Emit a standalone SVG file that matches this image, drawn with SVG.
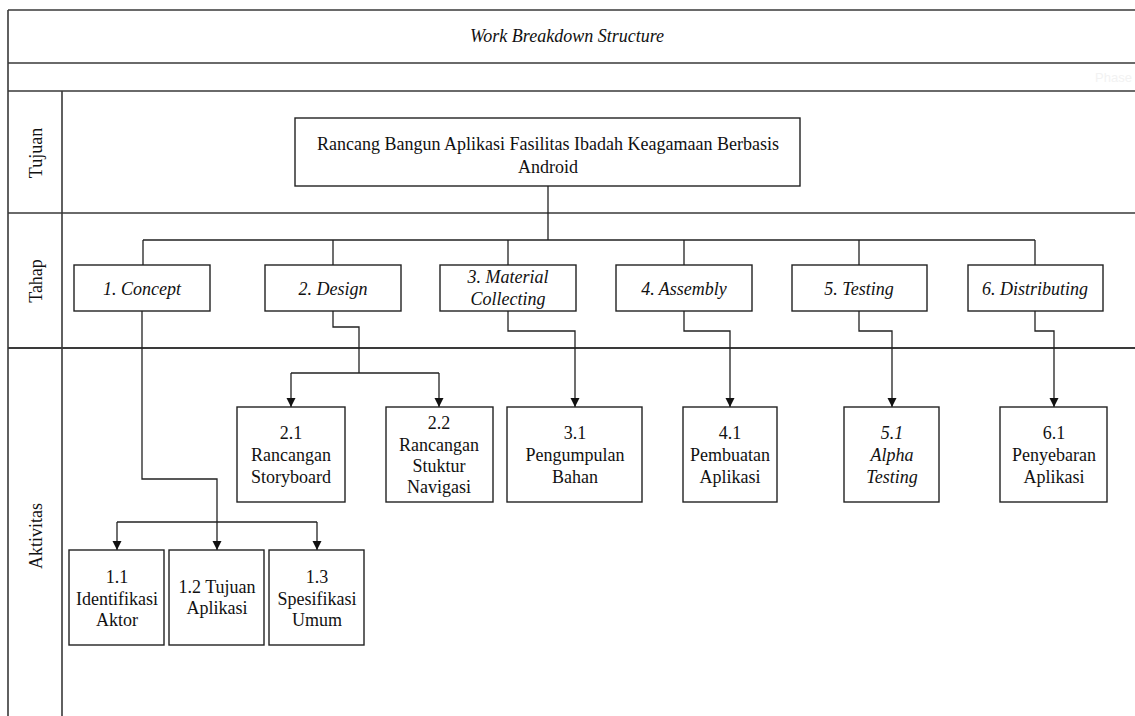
<svg xmlns="http://www.w3.org/2000/svg" width="1135" height="716" viewBox="0 0 1135 716">
<style>
.lane{stroke:#3a3a3a;stroke-width:1.6;fill:none}
.box{fill:#fff;stroke:#222;stroke-width:1.4}
.t{font-size:18px;fill:#111;text-anchor:middle}
.i{font-style:italic}
.c{stroke:#222;stroke-width:1.3;fill:none}
</style>
<defs>
<marker id="arr" markerUnits="userSpaceOnUse" markerWidth="10" markerHeight="10" refX="9" refY="5" orient="auto">
<path d="M0,0.5 L9,5 L0,9.5 z" fill="#111"/>
</marker>
</defs>
<rect width="1135" height="716" fill="#fff"/>
<g font-family="Liberation Serif, Times New Roman, serif">
<g id="frame">
<path class="lane" d="M8,10 H1135 M8,63 H1135 M8,91 H1135 M8,213 H1135 M8,10 V716 M62,91 V716"/>
<path d="M8,348 H1135" stroke="#3a3a3a" stroke-width="2.2"/>
<text class="t i" x="567" y="42" font-size="16.5">Work Breakdown Structure</text>
<text x="1095" y="82" font-family="Liberation Sans, Arial, sans-serif" font-size="13" fill="#f2f2f2">Phase</text>
<text class="t" transform="translate(42,153) rotate(-90)" font-size="17">Tujuan</text>
<text class="t" transform="translate(42,281) rotate(-90)" font-size="17">Tahap</text>
<text class="t" transform="translate(42,536) rotate(-90)" font-size="17">Aktivitas</text>
</g>
<g id="connectors">
<path class="c" d="M548,186 V240 M143,240 H1035 M143,240 V265 M333,240 V265 M508,240 V265 M684,240 V265 M859,240 V265 M1035,240 V265"/>
<path class="c" d="M142,311 V479 H217 V550" marker-end="url(#arr)"/>
<path class="c" d="M117,522 H317"/>
<path class="c" d="M117,522 V550" marker-end="url(#arr)"/>
<path class="c" d="M317,522 V550" marker-end="url(#arr)"/>
<path class="c" d="M333,311 V327 H359 V373 M291,373 H439"/>
<path class="c" d="M291,373 V407" marker-end="url(#arr)"/>
<path class="c" d="M439,373 V407" marker-end="url(#arr)"/>
<path class="c" d="M508,311 V331 H575 V407" marker-end="url(#arr)"/>
<path class="c" d="M684,311 V331 H730 V407" marker-end="url(#arr)"/>
<path class="c" d="M859,311 V331 H892 V407" marker-end="url(#arr)"/>
<path class="c" d="M1035,311 V331 H1054 V407" marker-end="url(#arr)"/>
</g>
<g id="root">
<rect class="box" x="295" y="118" width="505" height="68"/>
<text class="t" x="548" y="150">Rancang Bangun Aplikasi Fasilitas Ibadah Keagamaan Berbasis</text>
<text class="t" x="548" y="173">Android</text>
</g>
<g id="p1"><rect class="box" x="74" y="265" width="136" height="46"/><text class="t i" x="142" y="295">1. Concept</text></g>
<g id="p2"><rect class="box" x="265" y="265" width="136" height="46"/><text class="t i" x="333" y="295">2. Design</text></g>
<g id="p3"><rect class="box" x="440" y="265" width="136" height="46"/><text class="t i" x="508" y="283">3. Material</text><text class="t i" x="508" y="305">Collecting</text></g>
<g id="p4"><rect class="box" x="616" y="265" width="136" height="46"/><text class="t i" x="684" y="295">4. Assembly</text></g>
<g id="p5"><rect class="box" x="792" y="265" width="135" height="46"/><text class="t i" x="859" y="295">5. Testing</text></g>
<g id="p6"><rect class="box" x="968" y="265" width="135" height="46"/><text class="t i" x="1035" y="295">6. Distributing</text></g>
<g id="a21"><rect class="box" x="237" y="407" width="108" height="95"/><text class="t" x="291" y="439">2.1</text><text class="t" x="291" y="461">Rancangan</text><text class="t" x="291" y="483">Storyboard</text></g>
<g id="a22"><rect class="box" x="386" y="407" width="107" height="95"/><text class="t" x="439" y="429">2.2</text><text class="t" x="439" y="451">Rancangan</text><text class="t" x="439" y="472">Stuktur</text><text class="t" x="439" y="493">Navigasi</text></g>
<g id="a31"><rect class="box" x="507" y="407" width="135" height="95"/><text class="t" x="575" y="439">3.1</text><text class="t" x="575" y="461">Pengumpulan</text><text class="t" x="575" y="483">Bahan</text></g>
<g id="a41"><rect class="box" x="683" y="407" width="94" height="95"/><text class="t" x="730" y="439">4.1</text><text class="t" x="730" y="461">Pembuatan</text><text class="t" x="730" y="483">Aplikasi</text></g>
<g id="a51"><rect class="box" x="844" y="407" width="95" height="95"/><text class="t i" x="892" y="439">5.1</text><text class="t i" x="892" y="461">Alpha</text><text class="t i" x="892" y="483">Testing</text></g>
<g id="a61"><rect class="box" x="1000" y="407" width="107" height="95"/><text class="t" x="1054" y="439">6.1</text><text class="t" x="1054" y="461">Penyebaran</text><text class="t" x="1054" y="483">Aplikasi</text></g>
<g id="a11"><rect class="box" x="69" y="550" width="95" height="95"/><text class="t" x="117" y="583">1.1</text><text class="t" x="117" y="605">Identifikasi</text><text class="t" x="117" y="626">Aktor</text></g>
<g id="a12"><rect class="box" x="169" y="550" width="95" height="95"/><text class="t" x="217" y="593">1.2 Tujuan</text><text class="t" x="217" y="614">Aplikasi</text></g>
<g id="a13"><rect class="box" x="269" y="550" width="95" height="95"/><text class="t" x="317" y="583">1.3</text><text class="t" x="317" y="605">Spesifikasi</text><text class="t" x="317" y="626">Umum</text></g>
</g>
</svg>
